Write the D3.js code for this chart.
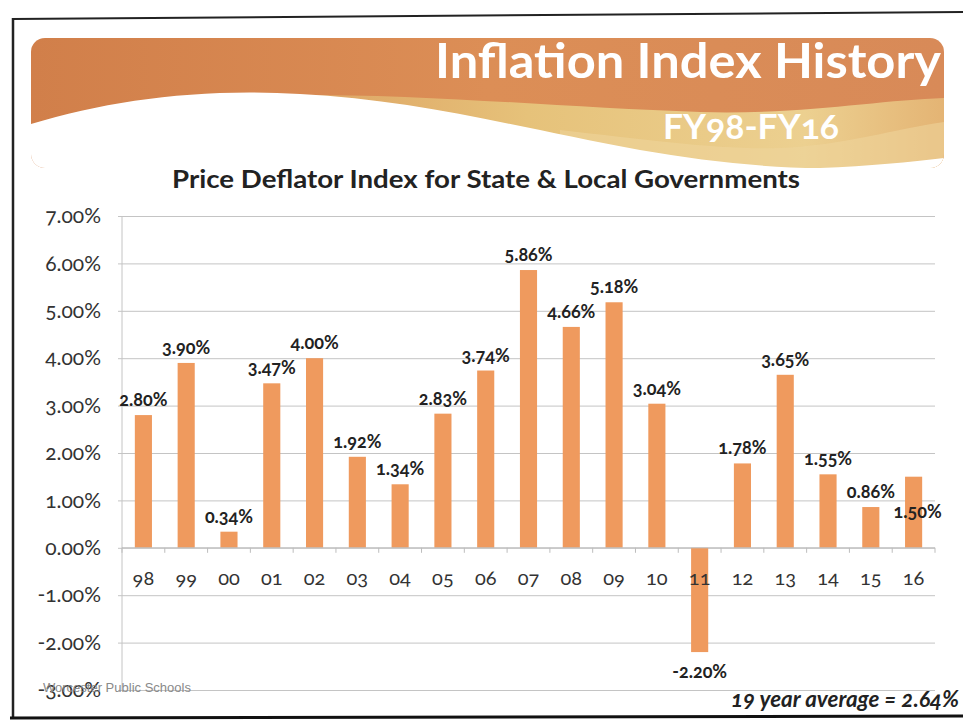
<!DOCTYPE html>
<html>
<head>
<meta charset="utf-8">
<script src="https://cdn.jsdelivr.net/npm/d3@7"></script>
<style>
  html, body { margin: 0; padding: 0; background: #fff; }
  svg { display: block; }
  text { font-family: Lato, "Open Sans", sans-serif; font-variant-numeric: oldstyle-nums; }
</style>
</head>
<body>
<svg id="chart" width="963" height="727"></svg>
<script>
// ---- data ----
const categories = ["98","99","00","01","02","03","04","05","06","07","08","09","10","11","12","13","14","15","16"];
const values = [2.80, 3.90, 0.34, 3.47, 4.00, 1.92, 1.34, 2.83, 3.74, 5.86, 4.66, 5.18, 3.04, -2.20, 1.78, 3.65, 1.55, 0.86, 1.50];
const yTicks = [7, 6, 5, 4, 3, 2, 1, 0, -1, -2, -3];
const titleText = "Inflation Index History";
const subtitleText = "FY98-FY16";
const chartTitle = "Price Deflator Index for State & Local Governments";
const averageText = "19 year average = 2.64%";
const footerText = "Worcester Public Schools";

const svg = d3.select("#chart");
const plot = { left: 122, right: 935, top: 216, bottom: 690 };
const pct = d => (d3.format(".2f")(d) + "%").replace("\u2212", "-");

// ---- frame (scanned page border) ----
svg.append("line").attr("x1", 12).attr("y1", 19).attr("x2", 963).attr("y2", 12)
  .attr("stroke", "#222").attr("stroke-width", 2);
svg.append("line").attr("x1", 13).attr("y1", 18).attr("x2", 13).attr("y2", 718)
  .attr("stroke", "#222").attr("stroke-width", 2.5);
svg.append("line").attr("x1", 10).attr("y1", 718).attr("x2", 963).attr("y2", 716)
  .attr("stroke", "#111").attr("stroke-width", 3);

// ---- banner ----
const defs = svg.append("defs");
const og = defs.append("linearGradient").attr("id", "orangeGrad")
  .attr("x1", "0").attr("y1", "0").attr("x2", "1").attr("y2", "0");
og.append("stop").attr("offset", "0").attr("stop-color", "#d17f4a");
og.append("stop").attr("offset", "0.5").attr("stop-color", "#dc8e56");
og.append("stop").attr("offset", "1").attr("stop-color", "#d88a58");
const yg = defs.append("linearGradient").attr("id", "yellowGrad")
  .attr("x1", "0").attr("y1", "0").attr("x2", "1").attr("y2", "0");
yg.append("stop").attr("offset", "0").attr("stop-color", "#dfae6a").attr("stop-opacity", 0.6);
yg.append("stop").attr("offset", "0.4").attr("stop-color", "#e6c27a");
yg.append("stop").attr("offset", "0.8").attr("stop-color", "#ecd090");
yg.append("stop").attr("offset", "1").attr("stop-color", "#e4b474");
defs.append("clipPath").attr("id", "bannerClip")
  .append("rect").attr("x", 31).attr("y", 38).attr("width", 913).attr("height", 130).attr("rx", 14);

const banner = svg.append("g").attr("clip-path", "url(#bannerClip)");
banner.append("rect").attr("x", 31).attr("y", 38).attr("width", 913).attr("height", 130)
  .attr("fill", "url(#orangeGrad)");
banner.append("path")
  .attr("d", "M250,95 C420,92 560,108 700,112 C800,115 880,100 944,98 L944,168 L250,168 Z")
  .attr("fill", "url(#yellowGrad)");
banner.append("path")
  .attr("d", "M560,130 C650,140 720,150 780,148 C840,146 900,128 944,122 L944,168 L560,168 Z")
  .attr("fill", "#efd69c").attr("opacity", 0.55);
banner.append("path")
  .attr("d", "M31,124 C110,100 200,88 300,94 C420,100 520,128 640,150 C700,160 760,168 820,168 L820,170 L31,170 Z")
  .attr("fill", "#fff");
banner.append("path")
  .attr("d", "M820,168 C870,166 910,162 944,158 L944,170 L820,170 Z")
  .attr("fill", "#fff");

svg.append("text").attr("x", 941).attr("y", 78)
  .attr("text-anchor", "end").attr("fill", "#fff")
  .attr("font-size", 47).attr("font-weight", 700)
  .attr("textLength", 506).attr("lengthAdjust", "spacingAndGlyphs")
  .text(titleText);
svg.append("text").attr("x", 839).attr("y", 139)
  .attr("text-anchor", "end").attr("fill", "#fff")
  .attr("font-size", 34).attr("font-weight", 700)
  .attr("textLength", 176).attr("lengthAdjust", "spacingAndGlyphs")
  .text(subtitleText);

svg.append("text").attr("x", 172).attr("y", 188)
  .attr("fill", "#222")
  .attr("font-size", 24).attr("font-weight", 700)
  .attr("textLength", 628).attr("lengthAdjust", "spacingAndGlyphs")
  .text(chartTitle);

// ---- scales ----
const x = d3.scaleBand().domain(categories).range([plot.left, plot.right])
  .paddingInner(0.6).paddingOuter(0.3);
const y = d3.scaleLinear().domain([-3, 7]).range([plot.bottom, plot.top]);

// gridlines + y labels
const yAxis = d3.axisLeft(y).tickValues(yTicks)
  .tickFormat(pct)
  .tickSize(-(plot.right - plot.left) - 4).tickPadding(17);
const gy = svg.append("g").attr("transform", `translate(${plot.left - 4},0)`).call(yAxis);
gy.select(".domain").remove();
gy.selectAll(".tick line").attr("stroke", "#c4c4c4").attr("stroke-width", 1);
gy.selectAll(".tick text").attr("fill", "#333").attr("font-size", 21)
  .attr("font-family", "Lato, 'Open Sans', sans-serif");

svg.append("line").attr("x1", plot.left).attr("x2", plot.left)
  .attr("y1", plot.top).attr("y2", plot.bottom)
  .attr("stroke", "#c4c4c4").attr("stroke-width", 1);

// bars
svg.append("g").selectAll("rect").data(values).join("rect")
  .attr("x", (d, i) => x(categories[i]))
  .attr("width", x.bandwidth())
  .attr("y", d => y(Math.max(0, d)))
  .attr("height", d => Math.abs(y(d) - y(0)))
  .attr("fill", "#ef9a5e");

// zero axis with ticks between categories
svg.append("line").attr("x1", plot.left).attr("x2", plot.right)
  .attr("y1", y(0)).attr("y2", y(0)).attr("stroke", "#bdbdbd").attr("stroke-width", 1);
svg.append("g").selectAll("line").data(d3.range(categories.length + 1)).join("line")
  .attr("x1", i => plot.left + i * x.step()).attr("x2", i => plot.left + i * x.step())
  .attr("y1", y(0)).attr("y2", y(0) + 5)
  .attr("stroke", "#bdbdbd").attr("stroke-width", 1);

// category labels
svg.append("g").selectAll("text").data(categories).join("text")
  .attr("x", d => x(d) + x.bandwidth() / 2)
  .attr("y", y(0) + 37)
  .attr("text-anchor", "middle")
  .attr("fill", "#333").attr("font-size", 20)
  .text(d => d);

// value labels
const last = values.length - 1;
svg.append("g").selectAll("text").data(values).join("text")
  .attr("x", (d, i) => x(categories[i]) + x.bandwidth() / 2 + (i === last ? 4 : 0))
  .attr("y", (d, i) => i === last ? y(d / 2) + 6 : (d >= 0 ? y(d) - 9 : y(d) + 26))
  .attr("text-anchor", "middle")
  .attr("fill", "#222").attr("font-size", 18).attr("font-weight", 700)
  .text(pct);

// footer
svg.append("text").attr("x", 43).attr("y", 692)
  .attr("fill", "#8a8a8a").attr("font-size", 13)
  .style("font-family", "'Liberation Sans', Arial, sans-serif")
  .style("font-variant-numeric", "normal")
  .text(footerText);

svg.append("text").attr("x", 959).attr("y", 707)
  .attr("text-anchor", "end").attr("fill", "#222")
  .attr("font-size", 22).attr("font-weight", 700).attr("font-style", "italic")
  .attr("textLength", 228).attr("lengthAdjust", "spacingAndGlyphs")
  .text(averageText);
</script>
</body>
</html>
